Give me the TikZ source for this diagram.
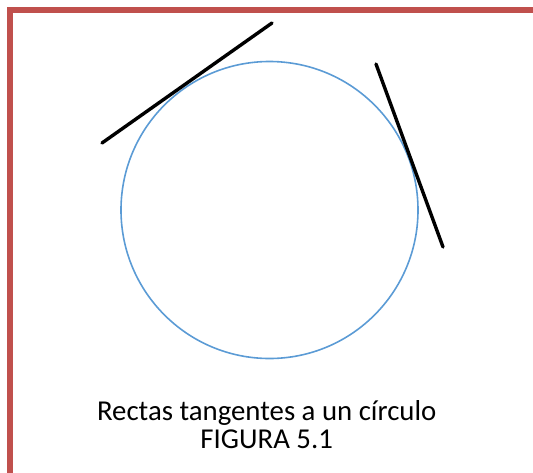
\documentclass[tikz,border=0pt]{standalone}
\usepackage{fontspec}
\setmainfont{Carlito}
\definecolor{frame}{HTML}{C0504D}
\definecolor{circ}{HTML}{5B9BD5}

\begin{document}
\begin{tikzpicture}[x=1pt,y=-1pt,
  tangent/.style={line width=3.4pt,line cap=round},
  caption/.style={anchor=base,font=\fontsize{28.8}{32}\selectfont}]
\useasboundingbox (0,0) rectangle (533,472);
\begin{scope}
\clip (0,0) rectangle (533,472);
\draw[frame,line width=5.5pt] (9.75,490) -- (9.75,9.75) -- (535.5,9.75) -- (535.5,490);
\end{scope}
\draw[circ,line width=1.6pt] (269.5,210) circle[radius=148.5];
\draw[tangent] (102,143) -- (272,23);
\draw[tangent] (376,64) -- (443,247);
\node[caption] (title) at (266.7,420) {Rectas tangentes a un círculo};
\node[caption] (figlabel) at (266.7,448) {FIGURA 5.1};
\end{tikzpicture}
\end{document}
